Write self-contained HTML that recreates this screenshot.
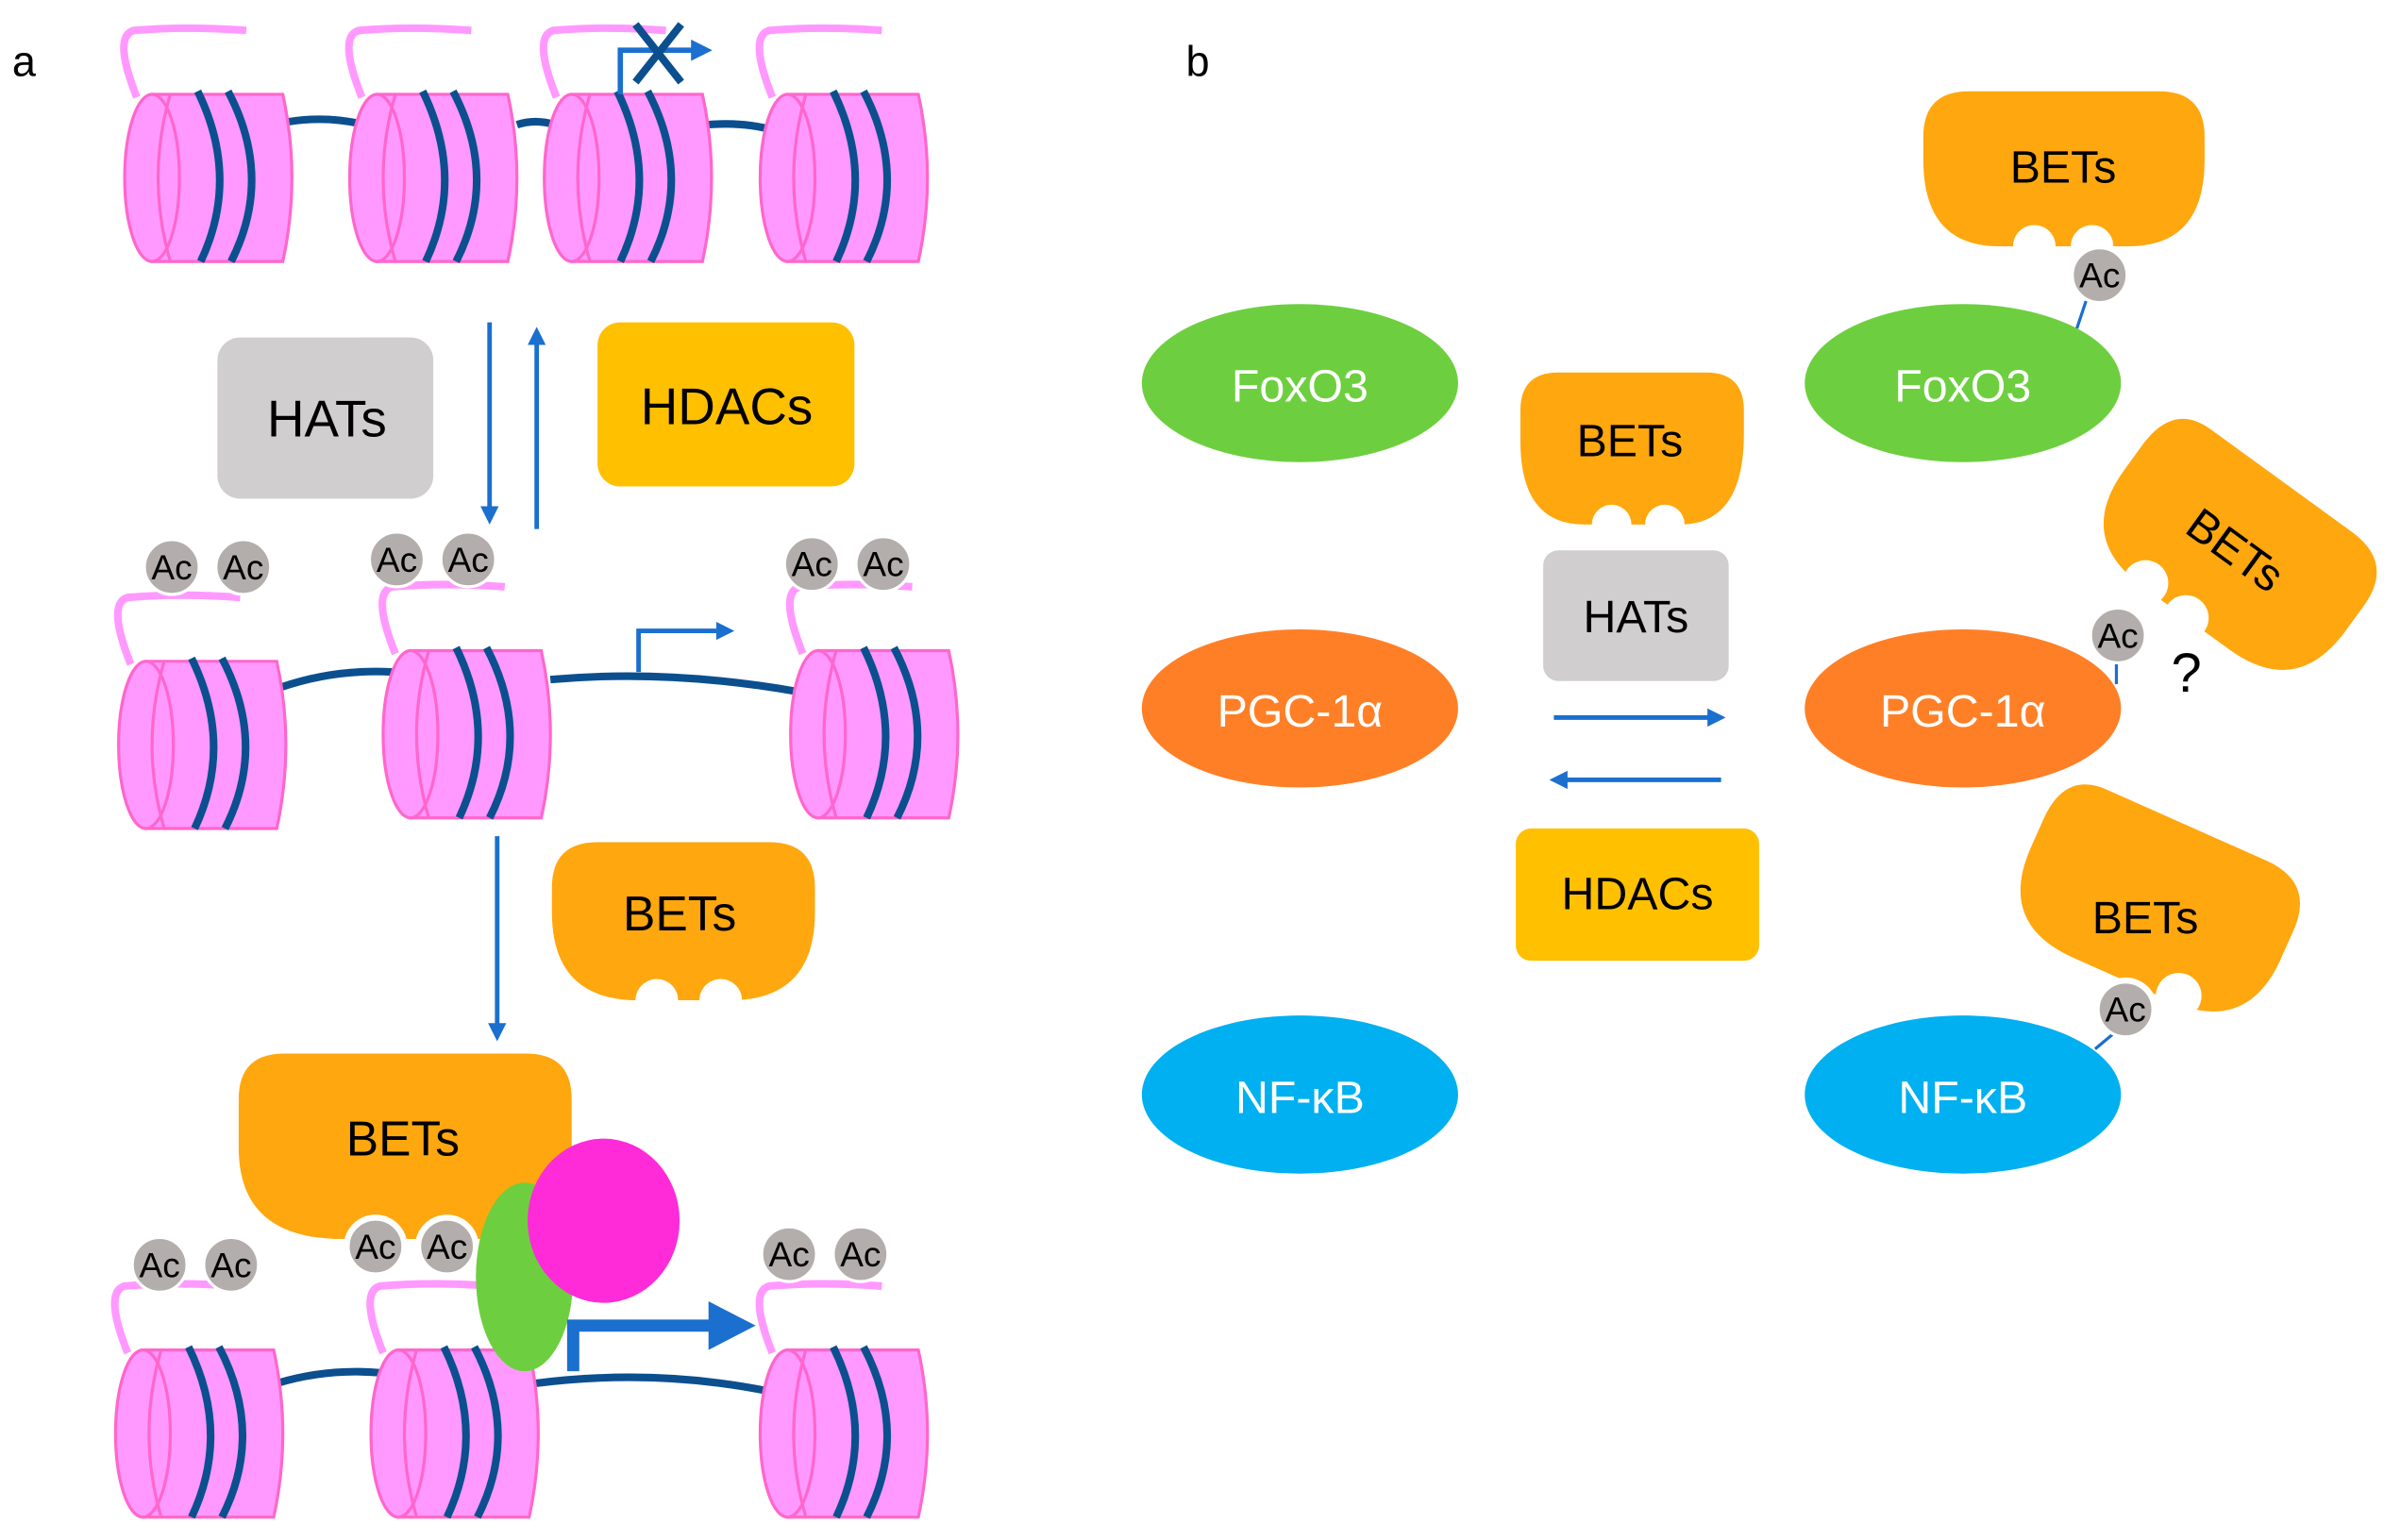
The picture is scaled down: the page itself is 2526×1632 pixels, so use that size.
<!DOCTYPE html>
<html><head><meta charset="utf-8"><style>
html,body{margin:0;padding:0;background:#fff;}
svg{display:block;font-family:"Liberation Sans",sans-serif;}
</style></head><body>
<svg width="2526" height="1632" viewBox="0 0 1568 1013" xmlns="http://www.w3.org/2000/svg">
<defs>
<g id="nuc">
  <path d="M8,2 Q-8,-38 6,-42 Q40,-45 80,-42" fill="none" stroke="#ff99ff" stroke-width="5"/>
  <path d="M18,0 H104 Q116,55 104,110 H18 Z" fill="#ff99ff" stroke="#ff66cc" stroke-width="2"/>
  <ellipse cx="18" cy="55" rx="18" ry="55" fill="#ff99ff" stroke="#ff66cc" stroke-width="2"/>
  <path d="M30,0 Q14,55 30,110" fill="none" stroke="#ff66cc" stroke-width="2"/>
  <path d="M48,-2 Q76,55 50,110" fill="none" stroke="#0b4f8f" stroke-width="5"/>
  <path d="M68,-2 Q98,55 70,110" fill="none" stroke="#0b4f8f" stroke-width="5"/>
</g>
<g id="ac">
  <circle r="18" fill="#b3aeac" stroke="#fff" stroke-width="2"/>
  <text y="8" text-anchor="middle" font-size="23" fill="#000">Ac</text>
</g>
<marker id="ah" markerWidth="5" markerHeight="4" refX="3" refY="2" orient="auto" markerUnits="strokeWidth"><path d="M0,0 L4,2 L0,4 Z" fill="#1a6fcf"/></marker>
</defs>

<text x="8" y="50" font-size="28">a</text>
<text x="780" y="50" font-size="28">b</text>

<!-- Row 1 -->
<path d="M190,80 Q215,76 240,82 M340,82 Q352,78 365,82 M465,82 Q490,80 510,86" fill="none" stroke="#0b4f8f" stroke-width="5"/>
<use href="#nuc" x="82" y="62"/>
<use href="#nuc" x="230" y="62"/>
<use href="#nuc" x="358" y="62"/>
<use href="#nuc" x="500" y="62"/>
<path d="M408,62 V33 H465" fill="none" stroke="#1a6fcf" stroke-width="3.5" marker-end="url(#ah)"/>
<path d="M418,16 L448,54 M448,16 L418,54" stroke="#0b4f8f" stroke-width="5"/>

<!-- HATs/HDACs -->
<rect x="143" y="222" width="142" height="106" rx="15" fill="#d0cece"/>
<text x="215" y="287" text-anchor="middle" font-size="34">HATs</text>
<rect x="393" y="212" width="169" height="108" rx="15" fill="#ffc000"/>
<text x="478" y="279" text-anchor="middle" font-size="34">HDACs</text>
<line x1="322" y1="212" x2="322" y2="342" stroke="#1a6fcf" stroke-width="3" marker-end="url(#ah)"/>
<line x1="353" y1="348" x2="353" y2="218" stroke="#1a6fcf" stroke-width="3" marker-end="url(#ah)"/>

<!-- Row 2 -->
<path d="M185,452 Q220,440 258,442 M362,447 Q440,440 525,455" fill="none" stroke="#0b4f8f" stroke-width="5"/>
<use href="#nuc" x="78" y="435"/>
<use href="#nuc" x="252" y="428"/>
<use href="#nuc" x="520" y="428"/>
<path d="M420,442 V415 H480" fill="none" stroke="#1a6fcf" stroke-width="3" marker-end="url(#ah)"/>
<use href="#ac" x="113" y="373"/><use href="#ac" x="160" y="373"/>
<use href="#ac" x="261" y="368"/><use href="#ac" x="308" y="368"/>
<use href="#ac" x="534" y="371"/><use href="#ac" x="581" y="371"/>

<line x1="327" y1="550" x2="327" y2="682" stroke="#1a6fcf" stroke-width="3" marker-end="url(#ah)"/>
<!-- BETs free -->
<path d="M393,554 H506 Q536,554 536,584 V600 Q536,658 480,658 H420 Q363,658 363,600 V584 Q363,554 393,554 Z" fill="#ffa70f"/>
<circle cx="432" cy="658" r="14" fill="#fff"/><circle cx="474" cy="658" r="14" fill="#fff"/>
<text x="447" y="612" text-anchor="middle" font-size="32">BETs</text>

<!-- Row 3 -->
<path d="M182,910 Q215,900 250,903 M352,910 Q430,900 505,915" fill="none" stroke="#0b4f8f" stroke-width="5"/>
<use href="#nuc" x="76" y="888"/>
<use href="#nuc" x="244" y="888"/>
<use href="#nuc" x="500" y="888"/>
<path d="M187,693 H346 Q376,693 376,723 V760 Q376,815 330,815 H225 Q157,815 157,755 V723 Q157,693 187,693 Z" fill="#ffa70f"/>
<use href="#ac" x="105" y="832"/><use href="#ac" x="152" y="832"/>
<circle cx="247" cy="820" r="21" fill="#fff"/><circle cx="294" cy="820" r="21" fill="#fff"/>
<use href="#ac" x="247" y="820"/><use href="#ac" x="294" y="820"/>
<use href="#ac" x="519" y="825"/><use href="#ac" x="566" y="825"/>
<text x="265" y="760" text-anchor="middle" font-size="32">BETs</text>
<ellipse cx="345" cy="840" rx="32" ry="62" fill="#6dcf3f"/>
<ellipse cx="397" cy="803" rx="50" ry="54" fill="#ff2ad8"/>
<path d="M377,902 V872 H470" fill="none" stroke="#1a6fcf" stroke-width="8"/>
<path d="M466,856 L497,872 L466,888 Z" fill="#1a6fcf"/>

<!-- Panel b left ellipses -->
<ellipse cx="855" cy="252" rx="104" ry="52" fill="#6dcf3f"/>
<text x="855" y="264" text-anchor="middle" font-size="30" fill="#fff">FoxO3</text>
<ellipse cx="855" cy="466" rx="104" ry="52" fill="#ff7f27"/>
<text x="855" y="478" text-anchor="middle" font-size="30" fill="#fff">PGC-1α</text>
<ellipse cx="855" cy="720" rx="104" ry="52" fill="#00b0f0"/>
<text x="855" y="732" text-anchor="middle" font-size="30" fill="#fff">NF-κB</text>

<!-- center -->
<path d="M1025,245 H1122 Q1147,245 1147,270 V285 Q1147,345 1105,345 H1042 Q1000,345 1000,290 V270 Q1000,245 1025,245 Z" fill="#ffa70f"/>
<circle cx="1060" cy="345" r="13" fill="#fff"/><circle cx="1095" cy="345" r="13" fill="#fff"/>
<text x="1072" y="300" text-anchor="middle" font-size="30">BETs</text>
<rect x="1015" y="362" width="122" height="86" rx="10" fill="#d0cece"/>
<text x="1076" y="416" text-anchor="middle" font-size="30">HATs</text>
<line x1="1022" y1="472" x2="1132" y2="472" stroke="#1a6fcf" stroke-width="3" marker-end="url(#ah)"/>
<line x1="1132" y1="513" x2="1022" y2="513" stroke="#1a6fcf" stroke-width="3" marker-end="url(#ah)"/>
<rect x="997" y="545" width="160" height="87" rx="10" fill="#ffc000"/>
<text x="1077" y="598" text-anchor="middle" font-size="30">HDACs</text>

<!-- right ellipses -->
<ellipse cx="1291" cy="252" rx="104" ry="52" fill="#6dcf3f"/>
<text x="1291" y="264" text-anchor="middle" font-size="30" fill="#fff">FoxO3</text>
<ellipse cx="1291" cy="466" rx="104" ry="52" fill="#ff7f27"/>
<text x="1291" y="478" text-anchor="middle" font-size="30" fill="#fff">PGC-1α</text>
<ellipse cx="1291" cy="720" rx="104" ry="52" fill="#00b0f0"/>
<text x="1291" y="732" text-anchor="middle" font-size="30" fill="#fff">NF-κB</text>

<!-- right top BETs -->
<path d="M1295,60 H1420 Q1450,60 1450,90 V105 Q1450,162 1400,162 H1315 Q1265,162 1265,105 V90 Q1265,60 1295,60 Z" fill="#ffa70f"/>
<circle cx="1338" cy="162" r="14" fill="#fff"/><circle cx="1376" cy="162" r="14" fill="#fff"/>
<text x="1357" y="120" text-anchor="middle" font-size="30">BETs</text>
<line x1="1372" y1="198" x2="1366" y2="216" stroke="#1a6fcf" stroke-width="2"/>
<use href="#ac" x="1381" y="181"/>

<!-- rotated BETs middle -->
<g transform="translate(1470,362) rotate(36)">
  <path d="M-60,-55 H55 Q90,-55 90,-20 V0 Q90,55 35,55 H-35 Q-90,55 -90,0 V-20 Q-90,-55 -60,-55 Z" fill="#ffa70f"/>
  <circle cx="-35" cy="52" r="15" fill="#fff"/><circle cx="0" cy="55" r="15" fill="#fff"/>
  <text x="0" y="10" text-anchor="middle" font-size="30">BETs</text>
</g>
<line x1="1392" y1="435" x2="1392" y2="450" stroke="#1a6fcf" stroke-width="2"/>
<use href="#ac" x="1393" y="418"/>
<text x="1438" y="455" text-anchor="middle" font-size="36">?</text>

<!-- lower BETs -->
<g transform="translate(1418,594) rotate(24)">
  <path d="M-60,-55 H55 Q90,-55 90,-20 V0 Q90,55 35,55 H-35 Q-90,55 -90,0 V-20 Q-90,-55 -60,-55 Z" fill="#ffa70f"/>
</g>
<circle cx="1433" cy="655" r="15" fill="#fff"/>
<circle cx="1398" cy="664" r="21" fill="#fff"/>
<text x="1411" y="614" text-anchor="middle" font-size="30">BETs</text>
<line x1="1390" y1="680" x2="1378" y2="690" stroke="#1a6fcf" stroke-width="2"/>
<use href="#ac" x="1398" y="664"/>
</svg>
</body></html>
